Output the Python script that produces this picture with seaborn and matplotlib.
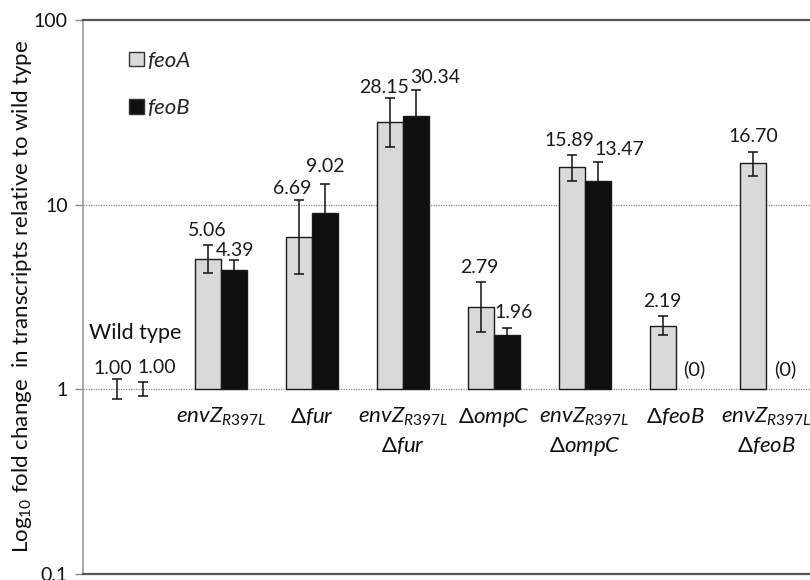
import numpy as np
import pandas as pd
import matplotlib
matplotlib.use("Agg")
import matplotlib.pyplot as plt
from matplotlib.patches import Patch
import seaborn as sns

# values (fold change vs wild type)
strains = ['Wild type', 'envZ', 'fur', 'envZ fur', 'ompC', 'envZ ompC', 'feoB', 'envZ feoB']
feoA = [1.00, 5.06, 6.69, 28.15, 2.79, 15.89, 2.19, 16.70]
feoB = [1.00, 4.39, 9.02, 30.34, 1.96, 13.47, np.nan, np.nan]
# error bar ends
feoA_lo = [0.885, 4.27, 4.18, 20.5, 2.03, 13.36, 1.95, 14.2]
feoA_hi = [1.13, 6.00, 10.64, 37.7, 3.82, 18.47, 2.48, 19.2]
feoB_lo = [0.92, 3.78, 6.20, 21.5, 1.79, 10.42, np.nan, np.nan]
feoB_hi = [1.085, 5.02, 12.99, 41.5, 2.15, 16.93, np.nan, np.nan]

label_line1 = ['', r'$\mathit{envZ}_{\mathit{R397L}}$', 'Δ$\\mathit{fur}$', r'$\mathit{envZ}_{\mathit{R397L}}$',
               'Δ$\\mathit{ompC}$', r'$\mathit{envZ}_{\mathit{R397L}}$', 'Δ$\\mathit{feoB}$',
               r'$\mathit{envZ}_{\mathit{R397L}}$']
label_line2 = ['', '', '', 'Δ$\\mathit{fur}$', '', 'Δ$\\mathit{ompC}$', '', 'Δ$\\mathit{feoB}$']

genes = ['feoA', 'feoB']
colors = {'feoA': '#d9d9d9', 'feoB': '#0f0f0f'}

# value label placement like the excel original (offsets in points)
nudge_x = {'feoA': [-3, -1, -5, -4, -1, -2, 0, 0], 'feoB': [10, 1, 0, 14, 5, 16, 0, 0]}
nudge_y = {'feoA': [8, 11, 8, 8, 10, 11, 10.5, 11], 'feoB': [11, 7, 12, 9, 11, 9, 0, 0]}

sns.set_style("white")
plt.rcParams['font.family'] = ['Lato', 'DejaVu Sans']
plt.rcParams['mathtext.fontset'] = 'custom'
plt.rcParams['mathtext.rm'] = 'Lato'
plt.rcParams['mathtext.it'] = 'Lato:italic'
plt.rcParams['mathtext.bf'] = 'Lato:bold'

df = pd.DataFrame({
    'strain': strains * 2,
    'gene': ['feoA'] * len(strains) + ['feoB'] * len(strains),
    'value': feoA + feoB,
})
# bars start at 1 (Excel axis crossing); wild type drawn without bars
df['height'] = df['value'] - 1
df.loc[df['strain'] == 'Wild type', 'height'] = np.nan

fig = plt.figure(figsize=(8.1, 5.8), dpi=100)
ax = fig.add_axes([0.1025, 0.0112, 0.8975, 0.9543])

sns.barplot(data=df, x='strain', y='height', hue='gene', order=strains, hue_order=genes,
            palette=colors, edgecolor='#1a1a1a', linewidth=1.0, width=0.57, bottom=1,
            errorbar=None, legend=False, ax=ax)

ax.set_yscale('log')
ax.set_ylim(0.1, 100)
ax.set_xlim(-0.52, 7.48)

off = 0.57 / 4
pos = np.arange(len(strains))
series = [('feoA', feoA, feoA_lo, feoA_hi), ('feoB', feoB, feoB_lo, feoB_hi)]
for i, (g, vals, lo, hi) in enumerate(series):
    x = pos + (-off if i == 0 else off)
    v = np.array(vals)
    ax.errorbar(x, v, yerr=[v - np.array(lo), np.array(hi) - v], fmt='none',
                ecolor='#111111', elinewidth=1.1, capsize=3.5, capthick=1.1, zorder=5)
    for k, (xx, vv, hh) in enumerate(zip(x, v, hi)):
        if np.isnan(vv):
            ax.annotate('(0)', (xx, 1), xytext=(4, 14), textcoords='offset points',
                        ha='center', va='center', fontsize=14.5, color='#1a1a1a')
        else:
            ax.annotate(f'{vv:.2f}', (xx, hh), xytext=(nudge_x[g][k], nudge_y[g][k]),
                        textcoords='offset points', ha='center', va='center',
                        fontsize=14, color='#1a1a1a')

for p, l1, l2 in zip(pos, label_line1, label_line2):
    ax.text(p, 0.657, l1, ha='center', va='baseline', fontsize=16, color='#111111')
    ax.text(p, 0.453, l2, ha='center', va='baseline', fontsize=16, color='#111111')

ax.text(0.055, 2.0, 'Wild type', ha='center', va='center', fontsize=15.5, color='#111111')

ax.set_yticks([0.1, 1, 10, 100], labels=['0.1', '1', '10', '100'])
ax.yaxis.set_minor_locator(matplotlib.ticker.NullLocator())
ax.set_xticks([])
ax.set_xlabel('')
ax.tick_params(axis='y', direction='out', length=6, width=1, color='#888888',
               labelsize=14, labelcolor='#111111', pad=5, left=True)

for yv in [1, 10]:
    ax.axhline(yv, color='#8a8a8a', linestyle=(0, (1, 1)), linewidth=0.9, zorder=0)

ax.spines['right'].set_visible(False)
ax.spines['left'].set_color('#999999')
ax.spines['left'].set_linewidth(1.2)
ax.spines['top'].set_color('#555555')
ax.spines['top'].set_linewidth(1.6)
ax.spines['bottom'].set_color('#555555')
ax.spines['bottom'].set_linewidth(1.6)

ax.set_ylabel('Log$_{10}$ fold change  in transcripts relative to wild type', fontsize=16, color='#111111')
ax.yaxis.set_label_coords(-0.068, 0.5)

handles = [Patch(facecolor=colors[g], edgecolor='#333333', linewidth=1.0) for g in genes]
leg = ax.legend(handles, genes, loc='upper left', bbox_to_anchor=(0.048, 0.964), frameon=False,
                borderpad=0, handlelength=0.68, handleheight=0.62, handletextpad=0.15,
                labelspacing=1.23, prop={'style': 'italic', 'size': 16})

fig.savefig('out.png', dpi=100)
